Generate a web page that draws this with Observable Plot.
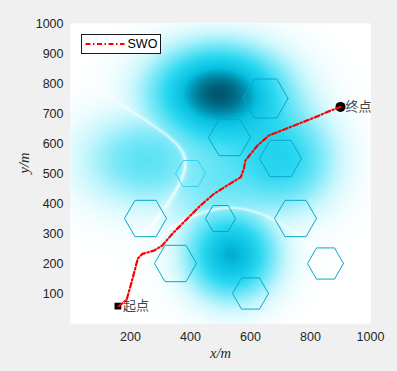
<!DOCTYPE html>
<html>
<head>
<meta charset="utf-8">
<script src="https://cdn.jsdelivr.net/npm/d3@7"></script>
<script src="https://cdn.jsdelivr.net/npm/@observablehq/plot@0.6"></script>
<style>
  html, body { margin: 0; padding: 0; background: #f0f0f0; }
  #chart { width: 397px; height: 371px; }
</style>
</head>
<body>
<div id="chart"></div>
<script>
// ---- data ----
const xTicks = [200, 400, 600, 800, 1000];
const yTicks = [100, 200, 300, 400, 500, 600, 700, 800, 900, 1000];

// threat field sources: centre, spread, strength, group (1 / -1)
const threatX = [493, 715, 460, 537, 256];
const threatY = [770, 545, 470, 230, 545];
const threatSX = [137, 110, 130, 95, 145];
const threatSY = [96, 110, 130, 95, 105];
const threatA = [1.0, 0.45, 0.25, 0.75, 0.33];
const threatG = [1, 1, 1, -1, -1];

// hexagonal obstacles
const hexX = [650, 530, 700, 400, 250, 350, 500, 750, 850, 600];
const hexY = [750, 620, 550, 500, 350, 200, 350, 350, 200, 100];
const hexR = [75, 70, 70, 50, 70, 70, 50, 70, 60, 60];

// SWO path
const pathX = [160, 187, 202, 217, 224, 239, 278, 306, 344, 389, 433, 478, 522, 568, 578, 583, 623, 662, 690, 746, 812, 868, 900];
const pathY = [57, 79, 132, 188, 216, 232, 243, 260, 304, 349, 393, 432, 460, 488, 516, 543, 593, 627, 638, 660, 686, 710, 722];

const startPt = {x: 158, y: 58, label: "起点"};
const endPt = {x: 900, y: 722, label: "终点"};
const seriesName = "SWO";

// ---- derived ----
function field(x, y) {
  let P = 0, N = 0;
  for (let k = 0; k < threatX.length; k++) {
    const dx = (x - threatX[k]) / threatSX[k];
    const dy = (y - threatY[k]) / threatSY[k];
    const g = threatA[k] * Math.exp(-0.5 * (dx * dx + dy * dy));
    if (threatG[k] > 0) P += g; else N += g;
  }
  const v = Math.max(P, N);
  if (v <= 0) return 0;
  const r = Math.abs(P - N) / v;
  return v * (1 - Math.exp(-r / 0.05));
}

const hexPts = [];
hexX.forEach((cx, i) => {
  for (let k = 0; k <= 6; k++) {
    const a = (k % 6) * Math.PI / 3;
    hexPts.push({i, x: cx + hexR[i] * Math.cos(a), y: hexY[i] + hexR[i] * Math.sin(a)});
  }
});
const path = pathX.map((x, i) => ({x, y: pathY[i]}));

const tickFont = "Liberation Sans, Arial, sans-serif";

const plot = Plot.plot({
  width: 397,
  height: 371,
  marginTop: 23,
  marginRight: 27,
  marginBottom: 48,
  marginLeft: 70,
  style: {background: "#f0f0f0", fontFamily: tickFont, overflow: "visible"},
  x: {domain: [0, 1000]},
  y: {domain: [0, 1000]},
  color: {
    type: "linear",
    domain: [0, 0.1, 0.25, 0.45, 0.7, 0.85, 1],
    range: ["#ffffff", "#d0f8fd", "#7de9f8", "#2cd8f1", "#06bfe0", "#008dac", "#005e77"],
    interpolate: "rgb"
  },
  marks: [
    Plot.frame({fill: "white", stroke: null}),
    Plot.raster({x1: 0, y1: 0, x2: 1000, y2: 1000, width: 300, height: 300, fill: field}),
    Plot.line(hexPts, {x: "x", y: "y", z: "i", stroke: d => d.i === 3 ? "#35d3ef" : "#0aa6c9", strokeWidth: 1}),
    Plot.dot([startPt], {x: "x", y: "y", symbol: "square", r: 3.8, fill: "black", stroke: null}),
    Plot.dot([endPt], {x: "x", y: "y", r: 5, fill: "black", stroke: null}),
    Plot.line(path, {x: "x", y: "y", stroke: "#ff0000", strokeWidth: 2.2, strokeDasharray: "5,2.5,1.5,2.5"}),
    Plot.text([startPt, endPt], {x: "x", y: "y", text: "label", textAnchor: "start", dx: 5, fontSize: 13, fill: "#444", fontFamily: "Noto Sans CJK SC"}),
    Plot.axisX({ticks: xTicks, tickFormat: d3.format("d"), tickSize: 0, tickPadding: 9, label: null, fontSize: 12.5, fill: "#262626"}),
    Plot.axisY({ticks: yTicks, tickFormat: d3.format("d"), tickSize: 0, tickPadding: 7, label: null, fontSize: 12.5, fill: "#262626"}),
    Plot.text(["x/m"], {frameAnchor: "bottom", dy: 34, fontSize: 14.5, fontStyle: "italic", fontFamily: "Liberation Serif, serif", fill: "#262626"}),
    Plot.text(["y/m"], {frameAnchor: "left", dx: -46, rotate: -90, fontSize: 14.5, fontStyle: "italic", fontFamily: "Liberation Serif, serif", fill: "#262626"})
  ]
});

// legend box (top-left inside the axes)
const svg = d3.select(plot);
const lg = svg.append("g").attr("transform", "translate(81.5,34.5)");
lg.append("rect").attr("width", 79).attr("height", 19).attr("fill", "white").attr("stroke", "#1a1a1a").attr("stroke-width", 1);
lg.append("line").attr("x1", 4).attr("x2", 43).attr("y1", 9.5).attr("y2", 9.5)
  .attr("stroke", "#ff0000").attr("stroke-width", 2.2).attr("stroke-dasharray", "5,2.5,1.5,2.5");
lg.append("text").attr("x", 46).attr("y", 9.5).attr("dy", "0.35em").attr("font-size", 12.5)
  .attr("text-anchor", "start").attr("font-family", tickFont).attr("fill", "#000").text(seriesName);

document.getElementById("chart").appendChild(plot);
</script>
</body>
</html>
